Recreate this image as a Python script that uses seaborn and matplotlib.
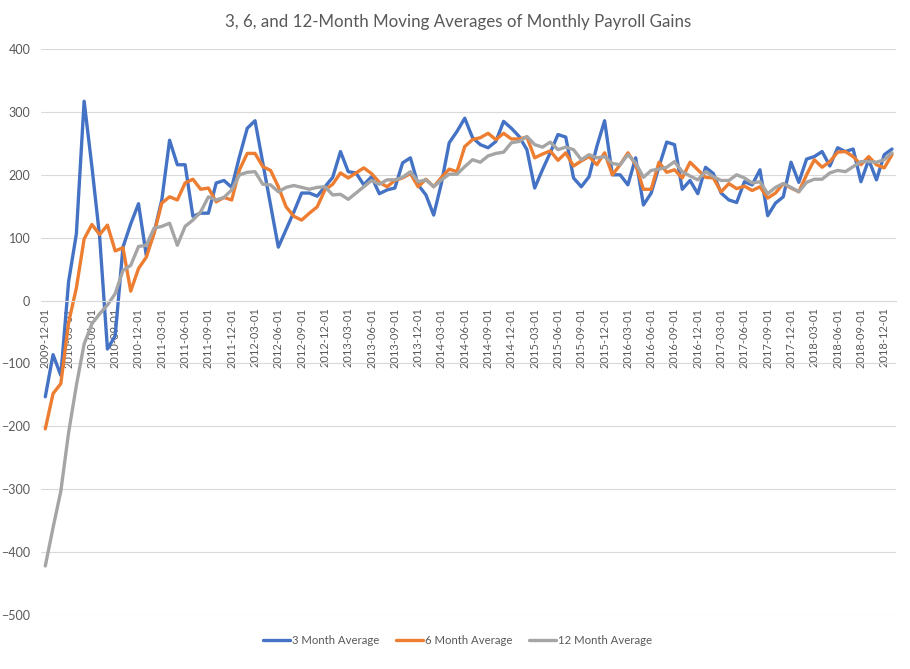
import pandas as pd
import numpy as np
import matplotlib.pyplot as plt
import seaborn as sns

# month labels, 2009-12 .. 2019-01
months = pd.date_range("2009-12-01", "2019-01-01", freq="MS").strftime("%Y-%m-%d").tolist()

# moving averages (thousands)
avg3 = [-153, -86, -119, 30, 106, 317, 213, 101, -77, -56,
        85, 122, 154, 72, 108, 160, 255, 216, 216, 134,
        139, 139, 187, 191, 180, 229, 274, 286, 219, 152,
        85, 113, 141, 171, 171, 166, 181, 196, 237, 205,
        203, 184, 197, 170, 176, 179, 219, 227, 184, 168,
        136, 187, 251, 269, 290, 259, 248, 243, 253, 285,
        274, 261, 240, 179, 208, 235, 264, 260, 195, 181,
        197, 245, 286, 200, 200, 184, 227, 152, 171, 213,
        252, 248, 177, 191, 170, 212, 202, 171, 160, 156,
        189, 184, 208, 135, 155, 165, 220, 188, 225, 229,
        237, 214, 243, 237, 241, 189, 224, 192, 232, 241]
avg6 = [-204, -148, -132, -35, 20, 98, 121, 105, 120, 79,
        84, 15, 51, 69, 107, 155, 165, 160, 187, 193,
        177, 179, 157, 164, 160, 208, 234, 234, 213, 207,
        181, 149, 134, 128, 139, 149, 176, 185, 203, 195,
        203, 211, 202, 188, 181, 191, 195, 202, 181, 193,
        181, 196, 209, 205, 245, 256, 259, 266, 256, 266,
        257, 257, 260, 227, 233, 238, 223, 235, 214, 222,
        229, 216, 235, 200, 216, 235, 216, 177, 177, 220,
        204, 208, 195, 220, 208, 196, 195, 173, 186, 178,
        182, 175, 181, 163, 171, 186, 179, 173, 200, 224,
        212, 221, 236, 237, 229, 216, 229, 216, 211, 232]
avg12 = [-422, -361, -303, -210, -135, -69, -37, -21, -7, 11,
         48, 56, 86, 88, 115, 118, 123, 88, 118, 128,
         141, 165, 160, 164, 176, 200, 204, 205, 185, 184,
         173, 180, 183, 180, 177, 180, 181, 168, 169, 161,
         171, 181, 191, 185, 192, 192, 196, 205, 189, 192,
         181, 192, 201, 201, 213, 224, 220, 230, 234, 236,
         251, 253, 261, 248, 244, 252, 240, 244, 240, 224,
         232, 227, 229, 218, 216, 232, 219, 196, 207, 209,
         212, 221, 205, 198, 192, 205, 197, 191, 191, 200,
         195, 187, 189, 170, 180, 186, 180, 173, 188, 193,
         193, 203, 207, 205, 213, 221, 221, 220, 224, 235]

series_names = ["3 Month Average", "6 Month Average", "12 Month Average"]
colors = ["#4472C4", "#ED7D31", "#A5A5A5"]

df = pd.DataFrame({"month": np.arange(len(months)),
                   series_names[0]: avg3,
                   series_names[1]: avg6,
                   series_names[2]: avg12})
df = df.melt(id_vars="month", var_name="series", value_name="gain")

sns.set_style("white")
plt.rcParams['font.family'] = ['Lato', 'DejaVu Sans']

fig = plt.figure(figsize=(9.1, 6.69), dpi=100)
ax = fig.add_axes([0.0455, 0.0807, 0.939, 0.846])

sns.lineplot(data=df, x="month", y="gain", hue="series", hue_order=series_names,
             palette=colors, linewidth=2.4, ax=ax, legend=False)

# category axis crosses at zero (do this before styling ticks, it resets them)
for s in ["top", "right", "left"]:
    ax.spines[s].set_visible(False)
ax.spines["bottom"].set_position(("data", 0))
ax.spines["bottom"].set_color("#D9D9D9")
ax.spines["bottom"].set_linewidth(0.8)

ax.set_xlim(-0.5, len(months) - 0.5)
ax.set_ylim(-500, 400)
ax.set_yticks(range(-500, 401, 100))
ax.set_xticks(range(0, len(months), 3))
ax.set_xticklabels(months[::3], rotation=90, fontsize=8, color="#595959")
ax.tick_params(axis="y", length=0, labelsize=9, labelcolor="#595959", pad=8)
ax.tick_params(axis="x", length=0, pad=5)
ax.set_xlabel("")
ax.set_ylabel("")

ax.yaxis.grid(True, color="#D9D9D9", linewidth=0.8)
ax.set_axisbelow(True)

fig.text(0.503, 1 - 22 / 669, "3, 6, and 12-Month Moving Averages of Monthly Payroll Gains",
         ha="center", va="center", fontsize=12.2, color="#595959")

handles = ax.get_lines()[:3]
fig.legend(handles, series_names, loc="center", bbox_to_anchor=(0.503, 1 - 640 / 669),
           ncol=3, frameon=False, fontsize=8.2, labelcolor="#595959",
           handlelength=2.3, handletextpad=0.2, columnspacing=1.5)

fig.savefig("out.png", dpi=100)
